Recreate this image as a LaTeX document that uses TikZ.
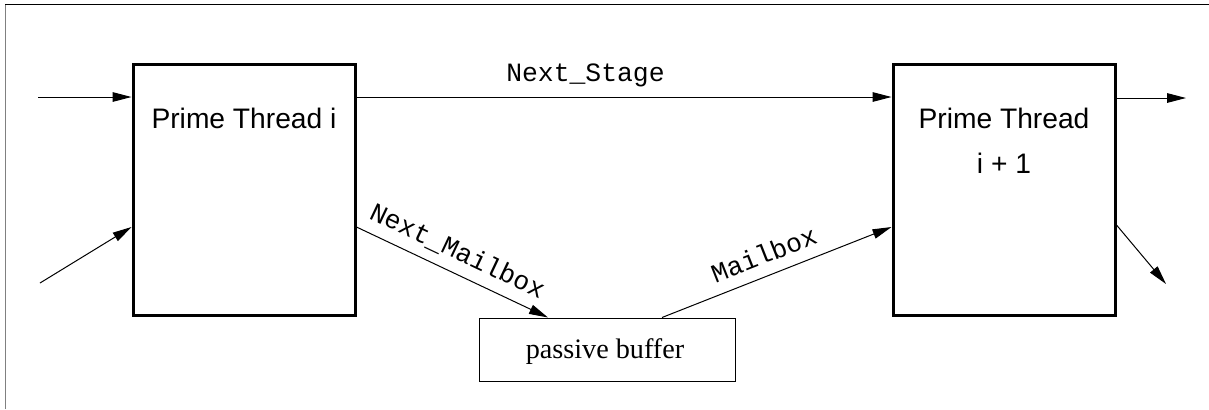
\documentclass[tikz,border=0pt]{standalone}
\usepackage{fontspec}
\setmainfont{Liberation Serif}
\setsansfont{Liberation Sans}
\setmonofont{Liberation Mono}
\usetikzlibrary{arrows.meta}
\tikzset{>={Triangle[length=9.5pt,width=4.8pt]}}
\tikzset{
  thread/.style={draw,line width=1.5pt,minimum width=111pt,minimum height=125.5pt,inner sep=0pt},
  buffer/.style={draw,line width=0.5pt,minimum width=128pt,minimum height=31.5pt,inner sep=0pt},
  threadtext/.style={font=\sffamily\fontsize{14.1}{22.5}\selectfont,align=center,anchor=base,inner sep=0pt},
  chan/.style={font=\ttfamily\fontsize{13.2}{15}\selectfont,anchor=base,inner sep=0pt}
}
\def\portshift{18.75pt}

\begin{document}
\begin{tikzpicture}[x=0.5pt,y=-0.5pt,line width=0.5pt]
  \useasboundingbox (0,0) rectangle (1209,409);
  % frame
  \draw[gray] (5,409) -- (5,4);
  \draw (5,4) -- (1209,4);
  % threads and buffer
  \node[thread] (pt1) at (244,189.5) {};
  \node[thread] (pt2) at (1004,189.5) {};
  \node[buffer] (buf) at (607,349.5) {};
  \node[threadtext] (pt1text) at (244,128) {Prime Thread i};
  % base is the last line here
  \node[threadtext] (pt2text) at (1004,173) {Prime Thread\\i + 1};
  \node[font=\fontsize{14.1}{17}\selectfont,anchor=base,inner sep=0pt] (buftext) at (605,358) {passive buffer};
  % free ends
  \coordinate (in1) at (38,97);
  \coordinate (in2) at (40,283);
  \coordinate (out1) at (1186,98);
  \coordinate (out2) at (1166,284);
  % incoming
  \draw[->] (in1) -- (in1 -| pt1.west);
  \draw[->] (in2) -- ([yshift=-\portshift]pt1.west);
  % channels
  \draw[->] (in1 -| pt1.east) -- (in1 -| pt2.west)
    node[chan,pos=0.428,yshift=8pt] (stage) {Next\_Stage};
  \draw[->] ([yshift=-\portshift]pt1.east) -- ([xshift=-29.5pt]buf.north)
    node[chan,sloped,pos=0.48,yshift=6.5pt] (nextmb) {Next\_Mailbox};
  \draw[->] ([xshift=27.5pt]buf.north) -- ([yshift=-\portshift]pt2.west)
    node[chan,sloped,pos=0.478,yshift=6pt] (mb) {Mailbox};
  % outgoing
  \draw[->] (out1 -| pt2.east) -- (out1);
  \draw[->] ([yshift=-17.75pt]pt2.east) -- (out2);
\end{tikzpicture}
\end{document}
